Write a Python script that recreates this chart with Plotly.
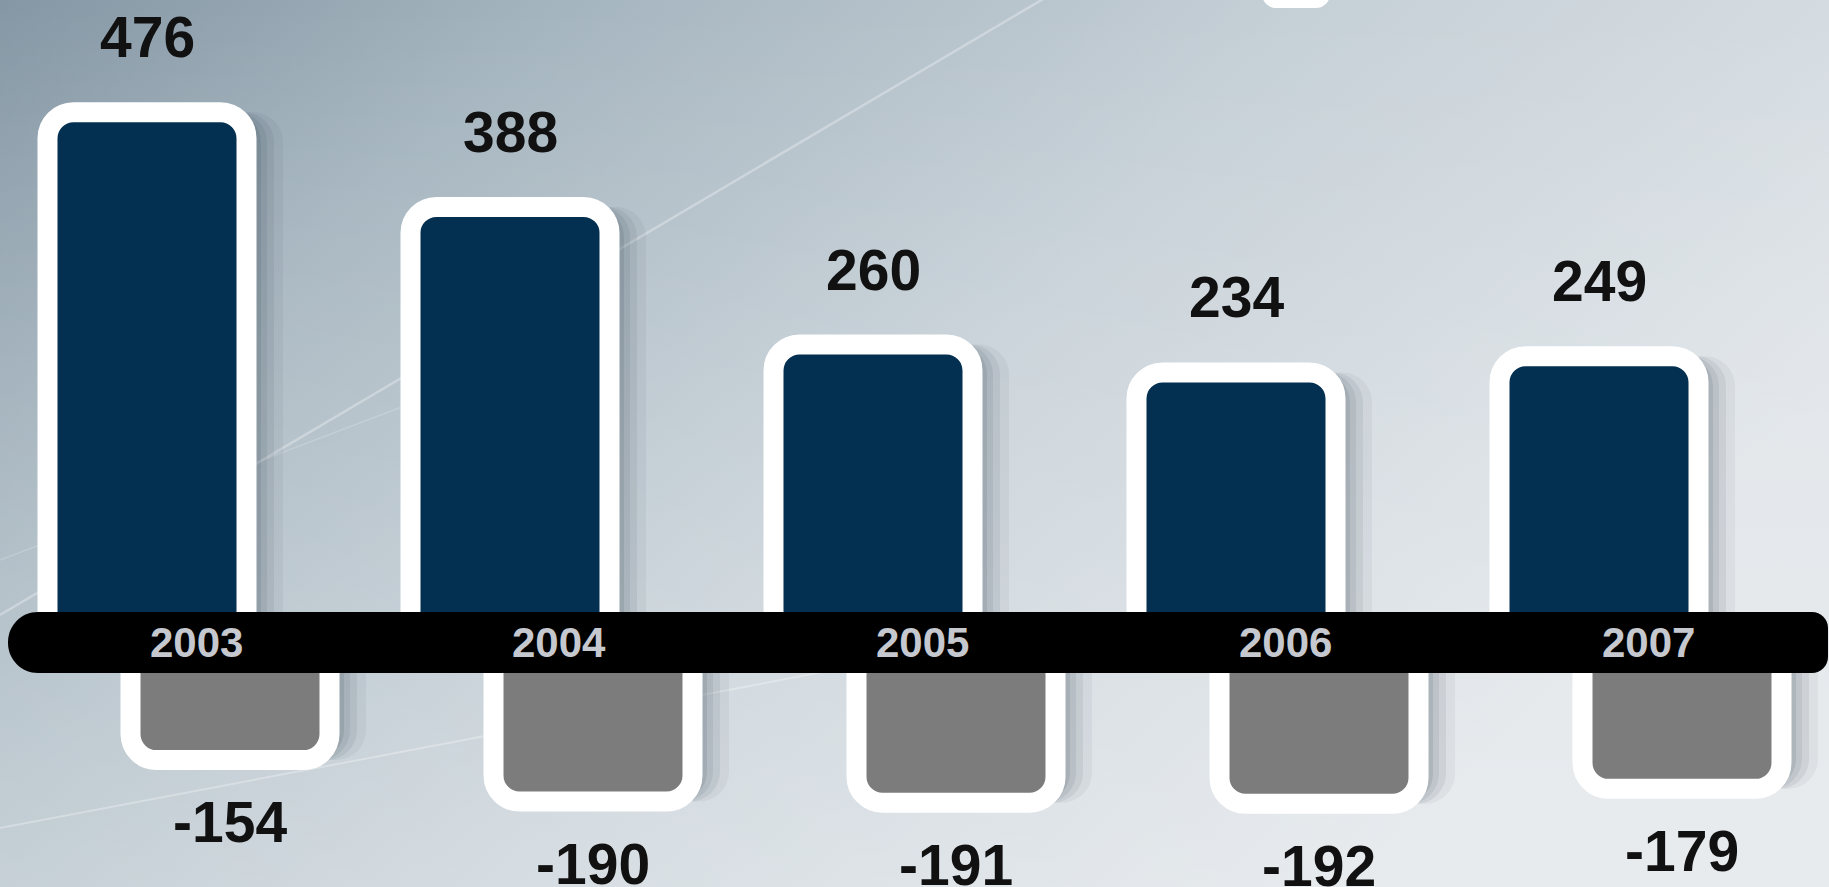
import base64
import plotly.graph_objects as go

years = ["2003", "2004", "2005", "2006", "2007"]
gains = [476, 388, 260, 234, 249]
losses = [-154, -190, -191, -192, -179]

W, H = 1829, 887
STEP = 363.0          # pixels between years
X0 = 196.0            # pixel position of the first year label
BAND_TOP, BAND_BOT = 612, 673
SPLIT = 642           # pixel row where the upper and lower plots meet


def fx(px):
    return px / W


def fy(py):
    return 1 - py / H


def rounded_rect(x0, y0, x1, y1, rl, rr):
    # path in paper coords, pixel inputs; rl / rr = left / right corner radius
    k = 0.5523
    pts = [
        f"M{fx(x0 + rl)},{fy(y0)}",
        f"L{fx(x1 - rr)},{fy(y0)}",
        f"C{fx(x1 - rr + rr * k)},{fy(y0)} {fx(x1)},{fy(y0 + rr - rr * k)} {fx(x1)},{fy(y0 + rr)}",
        f"L{fx(x1)},{fy(y1 - rr)}",
        f"C{fx(x1)},{fy(y1 - rr + rr * k)} {fx(x1 - rr + rr * k)},{fy(y1)} {fx(x1 - rr)},{fy(y1)}",
        f"L{fx(x0 + rl)},{fy(y1)}",
        f"C{fx(x0 + rl - rl * k)},{fy(y1)} {fx(x0)},{fy(y1 - rl + rl * k)} {fx(x0)},{fy(y1 - rl)}",
        f"L{fx(x0)},{fy(y0 + rl)}",
        f"C{fx(x0)},{fy(y0 + rl - rl * k)} {fx(x0 + rl - rl * k)},{fy(y0)} {fx(x0 + rl)},{fy(y0)}",
        "Z",
    ]
    return " ".join(pts)


# background: soft blue-grey gradient with faint light streaks
svg = f'''<svg xmlns="http://www.w3.org/2000/svg" width="{W}" height="{H}" viewBox="0 0 {W} {H}" preserveAspectRatio="none">
<defs>
<linearGradient id="g" x1="0" y1="0" x2="1" y2="0.45">
<stop offset="0" stop-color="#8597a5"/>
<stop offset="0.25" stop-color="#a4b4be"/>
<stop offset="0.6" stop-color="#c6d0d7"/>
<stop offset="1" stop-color="#dfe4e8"/>
</linearGradient>
<linearGradient id="v" x1="0" y1="0" x2="0" y2="1">
<stop offset="0" stop-color="#ffffff" stop-opacity="0"/>
<stop offset="1" stop-color="#ffffff" stop-opacity="0.28"/>
</linearGradient>
</defs>
<rect width="{W}" height="{H}" fill="url(#g)"/>
<rect width="{W}" height="{H}" fill="url(#v)"/>
<g stroke="#ffffff" fill="none">
<line x1="0" y1="615" x2="1050" y2="-5" stroke-opacity="0.3" stroke-width="2.5"/>
<line x1="0" y1="828" x2="1150" y2="610" stroke-opacity="0.3" stroke-width="2"/>
<line x1="0" y1="560" x2="420" y2="400" stroke-opacity="0.18" stroke-width="1.5"/>
</g>
</svg>'''
bg_src = "data:image/svg+xml;base64," + base64.b64encode(svg.encode()).decode()

x = list(range(len(years)))
bar_w = 199 / STEP
blue_c = -49 / STEP
gray_c = 34 / STEP

fig = go.Figure()

# soft drop shadows
for shift, a in [(4, 0.10), (10, 0.08), (17, 0.07), (26, 0.05)]:
    fig.add_trace(go.Bar(
        x=x, y=gains, xaxis="x", yaxis="y",
        offset=blue_c + (shift - 110) / STEP, width=220 / STEP,
        marker=dict(color=f"rgba(30,45,60,{a})", line_width=0, cornerradius=30),
        hoverinfo="skip", showlegend=False))
    fig.add_trace(go.Bar(
        x=x, y=losses, xaxis="x2", yaxis="y2",
        offset=gray_c + (shift - 110) / STEP, width=220 / STEP,
        marker=dict(color=f"rgba(30,45,60,{a})", line_width=0, cornerradius=30),
        hoverinfo="skip", showlegend=False))

fig.add_trace(go.Bar(
    x=x, y=gains, xaxis="x", yaxis="y", name="gains",
    offset=blue_c - bar_w / 2, width=bar_w,
    marker=dict(color="#032f50", line=dict(color="white", width=20), cornerradius=26),
    showlegend=False))
fig.add_trace(go.Bar(
    x=x, y=losses, xaxis="x2", yaxis="y2", name="losses",
    offset=gray_c - bar_w / 2, width=bar_w,
    marker=dict(color="#7c7c7c", line=dict(color="white", width=20), cornerradius=26),
    showlegend=False))

label_font = dict(family="Liberation Sans, Arial", size=57, color="#111111", weight="bold")
annotations = []
for i, v in enumerate(gains):
    annotations.append(dict(
        x=i + blue_c, y=v, xref="x", yref="y", text=str(v), showarrow=False,
        yanchor="bottom", yshift=41, font=label_font))
for i, v in enumerate(losses):
    annotations.append(dict(
        x=i + gray_c, y=v, xref="x2", yref="y2", text=str(v), showarrow=False,
        yanchor="top", yshift=-28, font=label_font))
for i, yr in enumerate(years):
    annotations.append(dict(
        x=i, y=fy((BAND_TOP + BAND_BOT) / 2), xref="x", yref="paper", text=yr,
        showarrow=False, yanchor="middle",
        font=dict(family="Liberation Sans, Arial", size=42, color="#c5c8ce", weight="bold")))

shapes = [
    dict(type="path", xref="paper", yref="paper", layer="above",
         path=rounded_rect(8, BAND_TOP, 1828, BAND_BOT, 30, 16),
         fillcolor="#000000", line_width=0),
    dict(type="path", xref="paper", yref="paper", layer="above",
         path=rounded_rect(1262, -40, 1330, 8, 14, 14),
         fillcolor="#ffffff", line_width=0),
]

x_range = [-X0 / STEP, (W - X0) / STEP]
fig.update_layout(
    width=W, height=H,
    margin=dict(l=0, r=0, t=0, b=0),
    paper_bgcolor="#b9c5cd", plot_bgcolor="rgba(0,0,0,0)",
    barmode="overlay",
    showlegend=False,
    xaxis=dict(range=x_range, visible=False, domain=[0, 1], anchor="y"),
    xaxis2=dict(range=x_range, visible=False, domain=[0, 1], anchor="y2"),
    yaxis=dict(domain=[fy(SPLIT), 1], range=[-(SPLIT - 624) / 1.075, 624 / 1.075],
               visible=False, anchor="x"),
    yaxis2=dict(domain=[0, fy(SPLIT)], range=[-(H - 583) / 1.15, -(SPLIT - 583) / 1.15],
                visible=False, anchor="x2"),
    annotations=annotations,
    shapes=shapes,
    images=[dict(source=bg_src, xref="paper", yref="paper", x=0, y=1, sizex=1, sizey=1,
                 sizing="stretch", xanchor="left", yanchor="top", layer="below")],
)

fig.write_html("out.html", config={"displayModeBar": False},
               post_script="document.body.style.margin='0';")
